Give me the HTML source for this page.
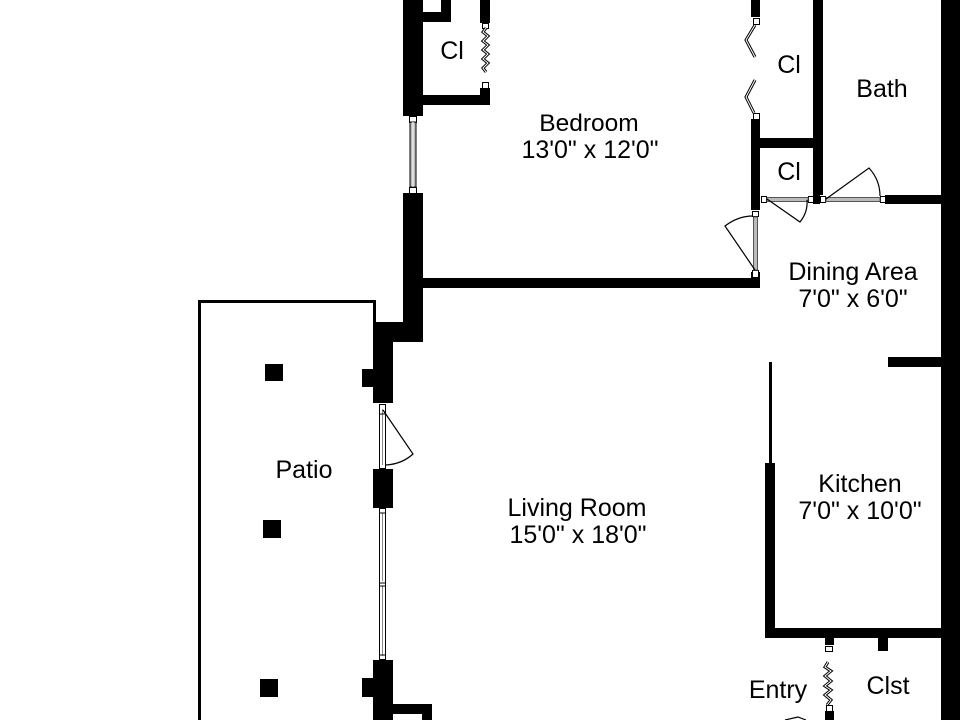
<!DOCTYPE html>
<html><head><meta charset="utf-8">
<style>
html,body{margin:0;padding:0;background:#fff;width:960px;height:720px;overflow:hidden}
svg{display:block}
text{font-family:"Liberation Sans",Arial,sans-serif;font-size:25px;fill:#000;text-anchor:middle}
</style></head>
<body>
<svg width="960" height="720" viewBox="0 0 960 720" xmlns="http://www.w3.org/2000/svg">
<rect width="960" height="720" fill="#fff"/>
<!-- patio -->
<path d="M199.500 720V301.500H374.500V322" fill="none" stroke="#000" stroke-width="3"/>
<rect x="265" y="364" width="18" height="17"/>
<rect x="263" y="520" width="18" height="18"/>
<rect x="260" y="679" width="18" height="18"/>
<!-- walls -->
<g fill="#000">
<rect x="403" y="0" width="20" height="116"/>
<rect x="423" y="12" width="28" height="10"/>
<rect x="441" y="0" width="10" height="22"/>
<rect x="480" y="0" width="10" height="23"/>
<rect x="423" y="95" width="67" height="10"/>
<rect x="480" y="88" width="10" height="17"/>
<rect x="403" y="193" width="20" height="149"/>
<rect x="373" y="322" width="50" height="20"/>
<rect x="373" y="322" width="20" height="81"/>
<rect x="362" y="369" width="11" height="18"/>
<rect x="373" y="469" width="20" height="39"/>
<rect x="373" y="660" width="20" height="60"/>
<rect x="362" y="678" width="11" height="19"/>
<rect x="393" y="704" width="39" height="10"/>
<rect x="422" y="704" width="10" height="16"/>
<rect x="423" y="278" width="337" height="10"/>
<rect x="751" y="272" width="9" height="16"/>
<rect x="751" y="0" width="9" height="17"/>
<rect x="751" y="119" width="9" height="91"/>
<rect x="760" y="138" width="54" height="10"/>
<rect x="813" y="0" width="10" height="195"/>
<rect x="813" y="195" width="7" height="9"/>
<rect x="885" y="195" width="56" height="9"/>
<rect x="941" y="0" width="19" height="720"/>
<rect x="888" y="357" width="53" height="10"/>
<rect x="769" y="362" width="3" height="101"/>
<rect x="765" y="463" width="10" height="175"/>
<rect x="765" y="628" width="176" height="10"/>
<rect x="825" y="638" width="9" height="7"/>
<rect x="878" y="638" width="10" height="13"/>
<rect x="825" y="711" width="9" height="9"/>
</g>
<!-- windows -->
<g fill="#fff" stroke="#000" stroke-width="1">
<rect x="409.500" y="116.500" width="7" height="6"/>
<rect x="409.500" y="187.500" width="7" height="6"/>
<rect x="482.500" y="23.500" width="6" height="5"/>
<rect x="482.500" y="82.500" width="6" height="6"/>
<rect x="753.500" y="18.500" width="6" height="6"/>
<rect x="753.500" y="113.500" width="6" height="6"/>
<rect x="825.500" y="646.500" width="7" height="5"/>
<rect x="826.500" y="705.500" width="6" height="6"/>
<rect x="761.500" y="196.500" width="5" height="6"/>
<rect x="808.500" y="196.500" width="5" height="6"/>
<rect x="820.500" y="196.500" width="5" height="6"/>
<rect x="880.500" y="196.500" width="5" height="6"/>
<rect x="752.500" y="211.500" width="6" height="5"/>
<rect x="752.500" y="270.500" width="6" height="7"/>
</g>
<rect x="410" y="122" width="6" height="65" fill="#bbb" stroke="#000" stroke-width="1"/>
<rect x="412.500" y="122" width="1" height="65" fill="#fff"/>
<g fill="#bbb" stroke="#555" stroke-width="1">
<rect x="767" y="197.500" width="41" height="4"/>
<rect x="826" y="197.500" width="54" height="4"/>
<rect x="753.500" y="217" width="4" height="53"/>
</g>
<g fill="#fff" stroke="#000" stroke-width="1">
<rect x="379.500" y="404.500" width="6" height="64"/>
<rect x="379.500" y="508.500" width="6" height="151"/>
</g>
<g stroke="#888" stroke-width="1">
<path d="M382.500 409V465M382.500 513V581M382.500 586V656" fill="none"/>
</g>
<path d="M379 414H386M379 513H386M379 583H386M379 586H386M379 655H386" stroke="#000" stroke-width="1"/>
<!-- zigzag bifold closet doors: double line -->
<g fill="none" stroke="#000" stroke-width="3">
<path d="M486 28L483 32 488 36 483 41 488 45 483 50 488 54 483 59 488 63 483 68 486 72"/>
<path d="M828 662L825 667 831 671 825 676 831 681 825 686 831 690 825 695 831 700 827 705"/>
<path d="M755 25L746 40 755 57"/>
<path d="M755 80L746 97 754 113"/>
</g>
<g fill="none" stroke="#fff" stroke-width="1">
<path d="M486 28L483 32 488 36 483 41 488 45 483 50 488 54 483 59 488 63 483 68 486 72"/>
<path d="M828 662L825 667 831 671 825 676 831 681 825 686 831 690 825 695 831 700 827 705"/>
<path d="M755 25L746 40 755 57"/>
<path d="M755 80L746 97 754 113"/>
</g>
<!-- door swings -->
<g fill="none" stroke="#000" stroke-width="1.200">
<path d="M383 410L413 454Q402 464 386 465"/>
<path d="M767 199L800 222Q808 212 807 200"/>
<path d="M826 199L869 168Q880 180 880 196"/>
<path d="M755 270L725 226Q738 216 753 216"/>
<path d="M785 720L798 717 806 720"/>
</g>
<!-- labels -->
<text x="452" y="59">Cl</text>
<text x="789" y="73">Cl</text>
<text x="882" y="97">Bath</text>
<text x="589" y="131" style="font-size:24.5px">Bedroom</text>
<text x="590" y="158">13'0" x 12'0"</text>
<text x="789" y="180">Cl</text>
<text x="853" y="280">Dining Area</text>
<text x="853" y="307">7'0" x 6'0"</text>
<text x="304" y="478">Patio</text>
<text x="860" y="492">Kitchen</text>
<text x="860" y="519">7'0" x 10'0"</text>
<text x="577" y="516">Living Room</text>
<text x="578" y="543">15'0" x 18'0"</text>
<text x="778" y="698">Entry</text>
<text x="888" y="694">Clst</text>
</svg>
</body></html>
